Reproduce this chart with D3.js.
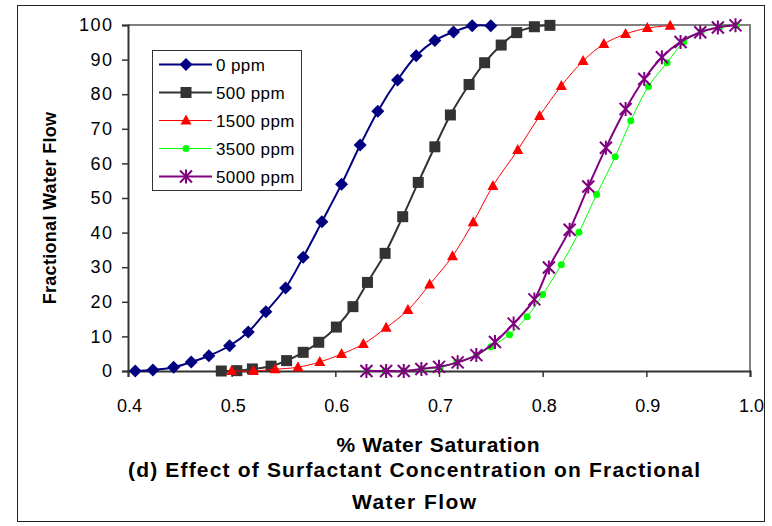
<!DOCTYPE html>
<html>
<head>
<meta charset="utf-8">
<script src="https://cdn.jsdelivr.net/npm/d3@7.9.0/dist/d3.min.js"></script>
<style>
  body { margin: 0; background: #fff; }
  svg { font-family: "Liberation Sans", Arial, sans-serif; }
</style>
</head>
<body>
<svg id="chart" width="772" height="526"></svg>
<script>
// series data: water saturation vs fractional flow (%)
const sw0 = [0.407, 0.424, 0.444, 0.461, 0.478, 0.498, 0.516, 0.533, 0.552, 0.569, 0.587, 0.606, 0.624, 0.641, 0.660, 0.678, 0.696, 0.714, 0.732, 0.750];
const fw0 = [0, 0.3, 1.1, 2.6, 4.4, 7.3, 11.3, 17.1, 24.0, 32.9, 43.1, 54.0, 65.3, 75.1, 84.1, 91.1, 95.5, 98.0, 99.8, 99.8];

const sw500 = [0.490, 0.505, 0.520, 0.538, 0.553, 0.569, 0.584, 0.601, 0.617, 0.631, 0.648, 0.665, 0.680, 0.696, 0.711, 0.729, 0.744, 0.760, 0.775, 0.792, 0.807];
const fw500 = [0, 0.1, 0.6, 1.4, 3.0, 5.4, 8.3, 12.7, 18.6, 25.6, 34.0, 44.6, 54.5, 64.8, 74.0, 82.8, 89.1, 94.2, 97.8, 99.5, 99.9];

const sw1500 = [0.500, 0.521, 0.542, 0.564, 0.585, 0.606, 0.627, 0.649, 0.670, 0.691, 0.713, 0.733, 0.752, 0.776, 0.797, 0.818, 0.839, 0.859, 0.880, 0.901, 0.923];
const fw1500 = [0, 0, 0.5, 1.1, 2.6, 4.9, 7.8, 12.5, 17.6, 25.0, 33.2, 43.0, 53.5, 63.9, 73.7, 82.4, 89.6, 94.5, 97.4, 99.1, 99.8];

const sw3500 = [0.631, 0.648, 0.666, 0.683, 0.701, 0.717, 0.736, 0.750, 0.768, 0.785, 0.800, 0.818, 0.835, 0.852, 0.870, 0.885, 0.902, 0.920, 0.936, 0.953, 0.971, 0.987];
const fw3500 = [0, 0, 0, 0.5, 1.0, 2.5, 4.6, 7.0, 10.5, 15.7, 22.1, 30.7, 40.1, 51.0, 61.9, 72.3, 82.2, 89.1, 95.0, 98.1, 99.5, 99.9];

const sw5000 = [0.630, 0.649, 0.666, 0.683, 0.700, 0.718, 0.736, 0.754, 0.772, 0.792, 0.806, 0.826, 0.844, 0.861, 0.880, 0.898, 0.915, 0.933, 0.952, 0.969, 0.986];
const fw5000 = [0, 0, 0, 0.6, 1.2, 2.5, 4.6, 8.4, 13.7, 20.7, 29.9, 40.8, 53.3, 64.5, 75.7, 84.4, 90.7, 95.1, 97.9, 99.3, 99.9];

const seriesNames = ['0 ppm', '500 ppm', '1500 ppm', '3500 ppm', '5000 ppm'];
const xTicks = [0.4, 0.5, 0.6, 0.7, 0.8, 0.9, 1.0];
const yTicks = [0, 10, 20, 30, 40, 50, 60, 70, 80, 90, 100];

const series = [
  { name: seriesNames[0], xs: sw0, ys: fw0, color: '#000080', width: 2, marker: 'diamond' },
  { name: seriesNames[1], xs: sw500, ys: fw500, color: '#333333', width: 2, marker: 'square' },
  { name: seriesNames[2], xs: sw1500, ys: fw1500, color: '#ff0000', width: 1, marker: 'triangle' },
  { name: seriesNames[3], xs: sw3500, ys: fw3500, color: '#00ff00', width: 1, marker: 'circle' },
  { name: seriesNames[4], xs: sw5000, ys: fw5000, color: '#800080', width: 2, marker: 'star' },
];

const svg = d3.select('#chart');

// outer frame
svg.append('rect')
  .attr('x', 17.5).attr('y', 5.5).attr('width', 747).attr('height', 516)
  .attr('fill', 'none').attr('stroke', '#222').attr('stroke-width', 1);

const plotL = 128, plotR = 750, plotT = 25, plotB = 371;
const x = d3.scaleLinear().domain([0.4, 1.0]).range([plotL, plotR]);
const y = d3.scaleLinear().domain([0, 100]).range([plotB, plotT]);

// plot area border (gray top & right)
svg.append('path')
  .attr('d', `M${plotL},${plotT}H${plotR}V${plotB}`)
  .attr('fill', 'none').attr('stroke', '#808080').attr('stroke-width', 2);

// axes
const xAxis = svg.append('g')
  .attr('transform', `translate(0,${plotB})`)
  .call(d3.axisBottom(x).tickValues(xTicks).tickFormat(d3.format('.1f')).tickSizeOuter(0).tickSize(6).tickPadding(22));
const yAxis = svg.append('g')
  .attr('transform', `translate(${plotL},0)`)
  .call(d3.axisLeft(y).tickValues(yTicks).tickSizeOuter(0).tickSize(6).tickPadding(10));

[xAxis, yAxis].forEach(g => {
  g.select('.domain').attr('stroke', '#333').attr('stroke-width', 2);
  g.selectAll('.tick line').attr('stroke', '#333').attr('stroke-width', 1.5);
  g.selectAll('.tick text').attr('fill', '#000').attr('font-size', 18)
    .attr('font-family', '"Liberation Sans", Arial, sans-serif');
});
yAxis.selectAll('.tick text').attr('letter-spacing', 1.5).attr('dx', 1.5);
xAxis.selectAll('.tick text').attr('dx', 1);

// markers
function drawMarker(g, type, color, cx, cy) {
  if (type === 'diamond') {
    g.append('path').attr('d', `M${cx},${cy - 6.5}L${cx + 6.5},${cy}L${cx},${cy + 6.5}L${cx - 6.5},${cy}Z`).attr('fill', color);
  } else if (type === 'square') {
    g.append('rect').attr('x', cx - 5.5).attr('y', cy - 5.5).attr('width', 11).attr('height', 11).attr('fill', color);
  } else if (type === 'triangle') {
    g.append('path').attr('d', `M${cx},${cy - 6}L${cx + 5.5},${cy + 4}L${cx - 5.5},${cy + 4}Z`).attr('fill', color);
  } else if (type === 'circle') {
    g.append('circle').attr('cx', cx).attr('cy', cy).attr('r', 3.5).attr('fill', color);
  } else if (type === 'star') {
    const r = 6;
    g.append('path')
      .attr('d', `M${cx - r},${cy - r}L${cx + r},${cy + r}M${cx - r},${cy + r}L${cx + r},${cy - r}M${cx},${cy - r - 1}V${cy + r + 1}`)
      .attr('stroke', color).attr('stroke-width', 2).attr('fill', 'none');
  }
}

const line = d3.line()
  .x(d => x(d[0])).y(d => y(d[1]))
  .curve(d3.curveCatmullRom.alpha(0.5));

series.forEach(s => {
  const pts = s.xs.map((v, i) => [v, s.ys[i]]);
  const g = svg.append('g');
  g.append('path').attr('d', line(pts))
    .attr('fill', 'none').attr('stroke', s.color).attr('stroke-width', s.width);
  pts.forEach(p => drawMarker(g, s.marker, s.color, x(p[0]), y(p[1])));
});

// legend
const legend = svg.append('g');
legend.append('rect')
  .attr('x', 152.5).attr('y', 50.5).attr('width', 149).attr('height', 140)
  .attr('fill', '#fff').attr('stroke', '#333').attr('stroke-width', 1);
series.forEach((s, i) => {
  const ly = 64.5 + i * 28;
  legend.append('line').attr('x1', 159).attr('x2', 212).attr('y1', ly).attr('y2', ly)
    .attr('stroke', s.color).attr('stroke-width', s.width);
  drawMarker(legend, s.marker, s.color, 186, ly);
  legend.append('text').attr('x', 216).attr('y', ly + 6)
    .attr('font-size', 17).attr('letter-spacing', 0.4).attr('fill', '#000').text(s.name);
});

// axis titles
svg.append('text')
  .attr('transform', 'translate(56,208) rotate(-90)')
  .attr('text-anchor', 'middle').attr('font-weight', 'bold').attr('font-size', 18)
  .attr('letter-spacing', 0.3)
  .text('Fractional Water Flow');

const titleLines = [
  { text: '% Water Saturation', cx: 438, y: 452, w: 203 },
  { text: '(d) Effect of Surfactant Concentration on Fractional', cx: 414, y: 477, w: 572 },
  { text: 'Water Flow', cx: 414, y: 509, w: 124 },
];
titleLines.forEach(t => {
  svg.append('text')
    .attr('x', t.cx - t.w / 2).attr('y', t.y)
    .attr('font-weight', 'bold').attr('font-size', 21)
    .attr('textLength', t.w).attr('lengthAdjust', 'spacing')
    .text(t.text);
});
</script>
</body>
</html>
